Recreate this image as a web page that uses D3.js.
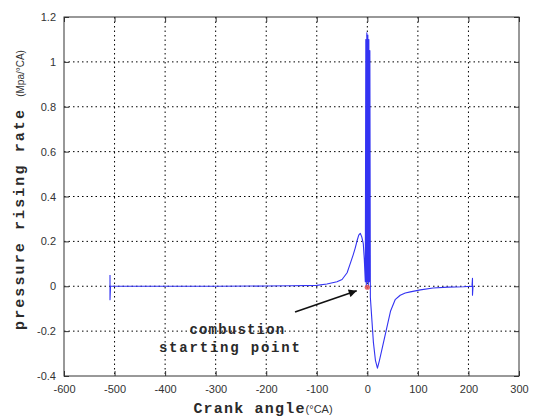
<!DOCTYPE html>
<html>
<head>
<meta charset="utf-8">
<script src="https://cdn.jsdelivr.net/npm/d3@7"></script>
<style>
  body { margin: 0; background: #fff; }
  svg { display: block; }
  .tick text { font-family: "Liberation Sans", Arial, sans-serif; font-size: 11px; fill: #333; }
  .mono { font-family: "Liberation Mono", "DejaVu Sans Mono", monospace; fill: #2a2a2a; font-weight: bold; }
</style>
</head>
<body>
<svg id="svg" width="535" height="417"></svg>
<script>
// crank angle (°CA) and pressure rising rate (MPa/°CA)
var angle = [-509, -509, -508, -400, -300, -200, -150, -100, -80, -60, -50, -40, -34, -28, -24, -20, -17, -14, -11, -8, -6,
  -4, -3, -2, -1, 0, 1, 2, 3, 4, 5, 6, 9, 12, 16, 20, 24, 30, 36, 46, 55, 65, 75, 85, 105, 130, 160, 190, 207, 208, 208, 209];
var rate = [0.05, -0.06, 0, 0, 0, 0.001, 0.002, 0.004, 0.01, 0.02, 0.03, 0.06, 0.1, 0.14, 0.17, 0.205, 0.228, 0.236, 0.22, 0.19, 0.12,
  0.02, 1.1, 0.0, 1.13, 0.02, 1.12, 0.0, 1.1, 0.02, 1.05, -0.05, -0.15, -0.25, -0.33, -0.365, -0.33, -0.27, -0.21, -0.11, -0.06,
  -0.04, -0.03, -0.025, -0.016, -0.008, -0.004, -0.002, 0, 0.035, -0.04, 0];

var xTicks = [-600, -500, -400, -300, -200, -100, 0, 100, 200, 300];
var yTicks = [-0.4, -0.2, 0, 0.2, 0.4, 0.6, 0.8, 1, 1.2];
var startPoint = [0, 0];

var svg = d3.select("#svg");
var margin = {top: 17, right: 16, bottom: 41, left: 64},
  width = 535 - margin.left - margin.right,
  height = 417 - margin.top - margin.bottom;

var x = d3.scaleLinear().domain([-600, 300]).range([0, width]);
var y = d3.scaleLinear().domain([-0.4, 1.2]).range([height, 0]);

var g = svg.append("g").attr("transform", "translate(" + margin.left + "," + margin.top + ")");

// dotted grid
g.append("g").selectAll("line").data(xTicks.slice(1, -1)).enter().append("line")
  .attr("x1", d => x(d)).attr("x2", d => x(d)).attr("y1", 0).attr("y2", height)
  .attr("stroke", "#000").attr("stroke-dasharray", "1.5,3").attr("stroke-width", 1);
g.append("g").selectAll("line").data(yTicks.slice(1, -1)).enter().append("line")
  .attr("y1", d => y(d)).attr("y2", d => y(d)).attr("x1", 0).attr("x2", width)
  .attr("stroke", "#000").attr("stroke-dasharray", "1.5,3").attr("stroke-width", 1);

// axes, ticks inside like matlab
var fmt = d => String(d);
g.append("g").attr("transform", "translate(0," + height + ")")
  .call(d3.axisBottom(x).tickValues(xTicks).tickSize(-5).tickPadding(9).tickFormat(fmt))
  .call(a => a.select(".domain").remove());
g.append("g")
  .call(d3.axisLeft(y).tickValues(yTicks).tickSize(-5).tickPadding(8).tickFormat(fmt))
  .call(a => a.select(".domain").remove());
g.append("g")
  .call(d3.axisTop(x).tickValues(xTicks).tickSize(-5).tickFormat(""))
  .call(a => a.select(".domain").remove());
g.append("g").attr("transform", "translate(" + width + ",0)")
  .call(d3.axisRight(y).tickValues(yTicks).tickSize(-5).tickFormat(""))
  .call(a => a.select(".domain").remove());
g.selectAll(".tick line").attr("stroke", "#333");

g.append("rect").attr("width", width).attr("height", height)
  .attr("fill", "none").attr("stroke", "#333").attr("stroke-width", 1);

// curve
var line = d3.line().x((d, i) => x(angle[i])).y(d => y(d));
g.append("path").datum(rate)
  .attr("fill", "none")
  .attr("stroke", "#3333f2")
  .attr("stroke-width", 1.1)
  .attr("stroke-linejoin", "round")
  .attr("d", line);

// combustion starting point
g.append("circle").attr("cx", x(startPoint[0])).attr("cy", y(startPoint[1]) + 1)
  .attr("r", 2.6).attr("fill", "#e05050").attr("opacity", 0.85);

svg.append("defs").append("marker")
  .attr("id", "head").attr("viewBox", "0 0 10 10").attr("refX", 10).attr("refY", 5)
  .attr("markerWidth", 10).attr("markerHeight", 8).attr("markerUnits", "userSpaceOnUse")
  .attr("orient", "auto")
  .append("path").attr("d", "M0,0L10,5L0,10Z").attr("fill", "#111");

g.append("line")
  .attr("x1", x(-143)).attr("y1", y(-0.115))
  .attr("x2", x(-21)).attr("y2", y(-0.02))
  .attr("stroke", "#111").attr("stroke-width", 1.6)
  .attr("marker-end", "url(#head)");

g.append("text").attr("class", "mono")
  .attr("x", x(-257)).attr("y", y(-0.2) + 3)
  .attr("text-anchor", "middle").attr("font-size", 14).attr("letter-spacing", 1.2)
  .text("combustion");
g.append("text").attr("class", "mono")
  .attr("x", x(-271)).attr("y", y(-0.28) + 3)
  .attr("text-anchor", "middle").attr("font-size", 14).attr("letter-spacing", 1.8)
  .text("starting point");

// axis labels
var xl = svg.append("text").attr("x", 263).attr("y", 413).attr("text-anchor", "middle");
xl.append("tspan").attr("class", "mono").attr("font-size", 15).attr("letter-spacing", 1.2).text("Crank angle");
xl.append("tspan").attr("font-family", "Liberation Sans, Arial, sans-serif").attr("font-size", 11).attr("fill", "#333").text("(°CA)");

var yl = svg.append("text").attr("transform", "translate(24,190) rotate(-90)").attr("text-anchor", "middle");
yl.append("tspan").attr("class", "mono").attr("font-size", 15).attr("letter-spacing", 2.1).text("pressure rising rate ");
yl.append("tspan").attr("font-family", "Liberation Sans, Arial, sans-serif").attr("font-size", 10).attr("fill", "#333").text("(Mpa/°CA)");
</script>
</body>
</html>
